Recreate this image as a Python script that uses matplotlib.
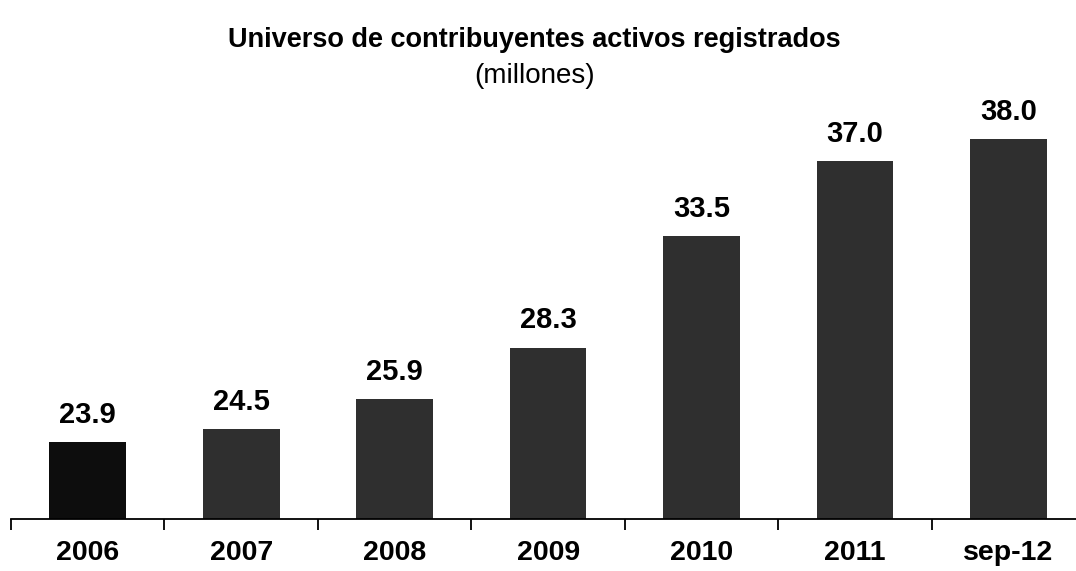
import matplotlib.pyplot as plt
import numpy as np

plt.rcParams["font.family"] = ["Liberation Sans", "DejaVu Sans"]

categories = ["2006", "2007", "2008", "2009", "2010", "2011", "sep-12"]
values = [23.9, 24.5, 25.9, 28.3, 33.5, 37.0, 38.0]
bar_colors = ["#0d0d0d", "#2f2f2f", "#2f2f2f", "#2f2f2f", "#2f2f2f", "#2f2f2f", "#2f2f2f"]

fig = plt.figure(figsize=(10.76, 5.71), dpi=100)
ax = fig.add_axes([0.0102, 0.091, 0.9898, 0.74])

base = 20.32
x = np.arange(len(categories))
ax.bar(x, np.array(values) - base, bottom=base, width=0.5, color=bar_colors)

for xi, v in zip(x, values):
    ax.text(xi, v + 0.62, f"{v:.1f}", ha="center", va="bottom",
            fontsize=21, fontweight="bold")

ax.set_xlim(-0.5, 6.44)
ax.set_ylim(base, 40.0)

for side in ["left", "right", "top"]:
    ax.spines[side].set_visible(False)
ax.spines["bottom"].set_linewidth(1.3)

ax.set_yticks([])
ax.set_xticks(x)
ax.set_xticklabels(categories, fontsize=20.5, fontweight="bold")
ax.tick_params(axis="x", which="major", length=0, pad=15)
ax.set_xticks(np.arange(-0.5, 6.5, 1), minor=True)
ax.tick_params(axis="x", which="minor", length=8, width=1.3, direction="out")

fig.text(0.497, 0.93, "Universo de contribuyentes activos registrados",
         ha="center", va="center", fontsize=19.5, fontweight="bold")
fig.text(0.497, 0.867, "(millones)", ha="center", va="center", fontsize=20)

fig.savefig("out.png", dpi=100)
